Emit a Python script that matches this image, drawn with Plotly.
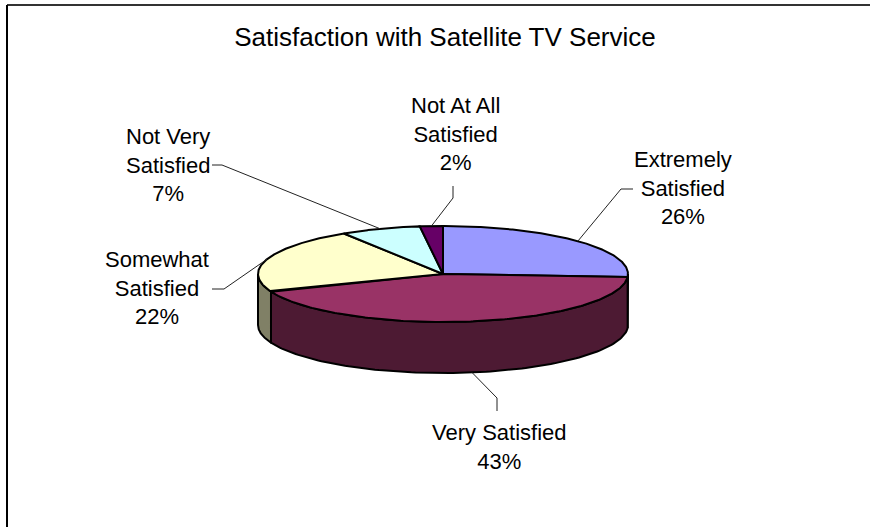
import numpy as np
import plotly.graph_objects as go

# Survey results
categories = ["Extremely Satisfied", "Very Satisfied", "Somewhat Satisfied",
              "Not Very Satisfied", "Not At All Satisfied"]
label_text = ["Extremely<br>Satisfied", "Very Satisfied", "Somewhat<br>Satisfied",
              "Not Very<br>Satisfied", "Not At All<br>Satisfied"]
shares = [26, 43, 22, 7, 2]

# Slice styling: top face colour and the darker wall colour
top_colors = ["#9999FF", "#993366", "#FFFFCC", "#CCFFFF", "#660066"]
side_colors = ["#4D4D80", "#4D1A33", "#808066", "#668080", "#330033"]

# Canvas and pie geometry (pixel units)
W, H = 870, 527
CX, CY = 443, 274          # centre of the top face
RX, RY = 185, 48           # ellipse radii of the tilted disc
DEPTH = 51                 # thickness of the disc
FONT = "Arial, Liberation Sans, sans-serif"

# Label placement: text centre, leader elbow, leader end next to the text
label_layout = {
    "Extremely Satisfied": dict(pos=(683, 188), elbow=(621, 189), end=(633, 189)),
    "Very Satisfied": dict(pos=(499, 447), elbow=(497, 398), end=(497, 411)),
    "Somewhat Satisfied": dict(pos=(157, 288), elbow=(224, 289), end=(212, 289)),
    "Not Very Satisfied": dict(pos=(168, 165), elbow=(222, 165), end=(212, 165)),
    "Not At All Satisfied": dict(pos=(455, 134), elbow=(453, 198), end=(453, 186)),
}

total = float(sum(shares))
bounds = np.concatenate([[0.0], np.cumsum(shares)]) / total * 360.0


def rim(theta_deg, drop=0.0):
    """Point(s) on the rim; angles run clockwise from 12 o'clock."""
    t = np.radians(theta_deg)
    return CX + RX * np.sin(t), CY - RY * np.cos(t) + drop


fig = go.Figure()
outline = dict(color="#000000", width=2)

# Visible outer walls (front half of the disc) drawn first
for i, cat in enumerate(categories):
    a, b = max(bounds[i], 90.0), min(bounds[i + 1], 270.0)
    if b <= a:
        continue
    arc = np.linspace(a, b, 120)
    tx, ty = rim(arc)
    bx, by = rim(arc[::-1], DEPTH)
    xs = np.concatenate([tx, bx, tx[:1]])
    ys = np.concatenate([ty, by, ty[:1]])
    fig.add_trace(go.Scatter(x=xs, y=ys, mode="lines", fill="toself",
                             fillcolor=side_colors[i], line=outline,
                             hoverinfo="skip", showlegend=False))

# Top faces
for i, cat in enumerate(categories):
    arc = np.linspace(bounds[i], bounds[i + 1], 200)
    ax, ay = rim(arc)
    xs = np.concatenate([[CX], ax, [CX]])
    ys = np.concatenate([[CY], ay, [CY]])
    fig.add_trace(go.Scatter(x=xs, y=ys, mode="lines", fill="toself",
                             fillcolor=top_colors[i], line=outline,
                             name=cat, hoverinfo="name", showlegend=False))

# Leader lines and data labels
for i, cat in enumerate(categories):
    mid = (bounds[i] + bounds[i + 1]) / 2.0
    drop = DEPTH if 90.0 < mid < 270.0 else 0.0
    px, py = rim(mid, drop)
    lay = label_layout[cat]
    fig.add_trace(go.Scatter(x=[px, lay["elbow"][0], lay["end"][0]],
                             y=[py, lay["elbow"][1], lay["end"][1]],
                             mode="lines", line=dict(color="#222222", width=1),
                             hoverinfo="skip", showlegend=False))
    pct = round(shares[i] / total * 100)
    fig.add_annotation(x=lay["pos"][0], y=lay["pos"][1], xref="x", yref="y",
                       text=f"{label_text[i]}<br>{pct}%", showarrow=False,
                       align="center", xanchor="center", yanchor="middle",
                       font=dict(family=FONT, size=22, color="#000000"))

# Chart frame (top and left edges)
fig.add_shape(type="line", xref="x", yref="y", x0=7, x1=W, y0=5, y1=5,
              line=dict(color="#333333", width=2))
fig.add_shape(type="line", xref="x", yref="y", x0=7, x1=7, y0=5, y1=H,
              line=dict(color="#000000", width=2))

fig.update_layout(
    width=W, height=H,
    margin=dict(l=0, r=0, t=0, b=0),
    paper_bgcolor="#FFFFFF", plot_bgcolor="#FFFFFF",
    title=dict(text="Satisfaction with Satellite TV Service",
               x=445 / W, xanchor="center", y=1 - 37 / H, yanchor="middle",
               font=dict(family=FONT, size=26, color="#000000")),
    xaxis=dict(range=[0, W], visible=False, fixedrange=True),
    yaxis=dict(range=[H, 0], visible=False, fixedrange=True),
    showlegend=False,
)

fig.write_html("out.html")
